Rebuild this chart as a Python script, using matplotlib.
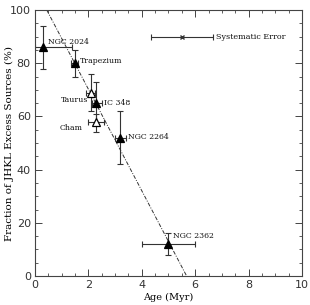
import matplotlib
matplotlib.use("Agg")
import matplotlib.pyplot as plt
from matplotlib.ticker import MultipleLocator

names = ["NGC 2024", "Trapezium", "Taurus", "IC 348", "Cham", "NGC 2264", "NGC 2362"]
age = [0.3, 1.5, 2.1, 2.3, 2.3, 3.2, 5.0]
age_lo = [0.3, 0.15, 0.2, 0.15, 0.3, 0.2, 1.0]
age_hi = [1.1, 0.1, 0.15, 0.2, 0.3, 0.2, 1.0]
frac = [86, 80, 69, 65, 58, 52, 12]
frac_lo = [8, 5, 7, 8, 4, 10, 4]
frac_hi = [8, 5, 7, 8, 3, 10, 4]
filled = [True, True, False, True, False, True, True]

label_x = [0.49, 1.69, 1.98, 2.6, 1.8, 3.5, 5.17]
label_y = [88, 81, 66, 65, 55.6, 52.3, 15]
label_ha = ["left", "left", "right", "left", "right", "left", "left"]

sys_x, sys_y, sys_err = 5.5, 90, 1.15
fit_x = [0.44, 5.68]
fit_y = [100, 0]

fig = plt.figure(figsize=(3.1, 3.05), dpi=100)
ax = fig.add_axes([0.113, 0.095, 0.861, 0.872])

for i in range(len(names)):
    ax.errorbar(age[i], frac[i], xerr=[[age_lo[i]], [age_hi[i]]],
                yerr=[[frac_lo[i]], [frac_hi[i]]], fmt='none', ecolor='#333333',
                elinewidth=0.8, capsize=2.5, capthick=0.8)
    ax.plot(age[i], frac[i], marker='^', ms=6, color='black',
            mfc='black' if filled[i] else 'white', mew=0.9, zorder=5)
    ax.text(label_x[i], label_y[i], names[i], ha=label_ha[i], va='center',
            fontsize=5.6, family='DejaVu Serif', color='#111111')

ax.errorbar(sys_x, sys_y, xerr=sys_err, fmt='x', ms=2.5, color='#333333',
            elinewidth=0.8, capsize=2.5, capthick=0.8)
ax.text(6.78, sys_y, "Systematic Error", ha='left', va='center', fontsize=5.8,
        family='DejaVu Serif', color='#111111')

ax.plot(fit_x, fit_y, color='#333333', lw=0.7, ls=(0, (4, 1.5, 1, 1.5)))

ax.set_xlim(0, 10)
ax.set_ylim(0, 100)
ax.xaxis.set_major_locator(MultipleLocator(2))
ax.xaxis.set_minor_locator(MultipleLocator(0.5))
ax.yaxis.set_major_locator(MultipleLocator(20))
ax.yaxis.set_minor_locator(MultipleLocator(5))
ax.tick_params(which='both', direction='in', top=True, right=True, color='#444444')
ax.tick_params(which='major', length=5, width=0.7, labelsize=8, pad=3)
ax.tick_params(which='minor', length=2.5, width=0.6)
for s in ax.spines.values():
    s.set_linewidth(0.8)
    s.set_color('#444444')
for lab in ax.get_xticklabels() + ax.get_yticklabels():
    lab.set_color('#333333')

ax.set_xlabel("Age (Myr)", fontsize=7, family='DejaVu Serif')
ax.set_ylabel("Fraction of JHKL Excess Sources (%)", fontsize=7.5, family='DejaVu Serif')
ax.yaxis.set_label_coords(-0.078, 0.5)
ax.xaxis.set_label_coords(0.5, -0.062)

fig.savefig("out.png", dpi=100)
